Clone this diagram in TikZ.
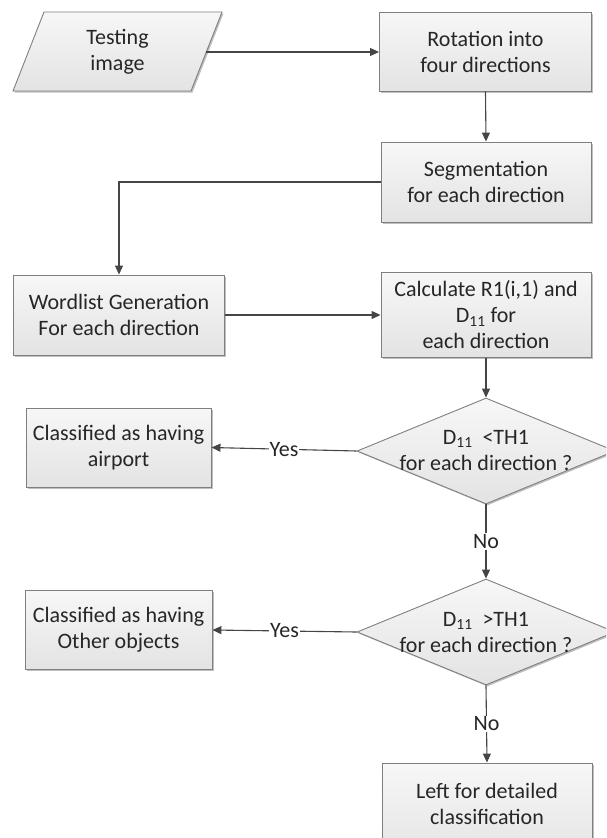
\documentclass[tikz,border=0pt]{standalone}
\usepackage{fontspec}
\setmainfont{Carlito}
\usetikzlibrary{arrows.meta,shapes.geometric,shadows}
\definecolor{boxline}{HTML}{7F7F7F}
\definecolor{arrowc}{HTML}{454545}
\definecolor{txt}{HTML}{262626}
\definecolor{topc}{HTML}{F7F7F7}
\definecolor{botc}{HTML}{E3E3E3}
\begin{document}
\begin{tikzpicture}[x=1pt,y=-1pt,
  font=\fontsize{22pt}{26pt}\selectfont, text=txt,
  shad/.style={drop shadow={shadow xshift=1.5pt, shadow yshift=-1.5pt, opacity=0.25, fill=black}},
  box/.style={rectangle, draw=boxline, line width=0.9pt, top color=topc, bottom color=botc,
    align=center, inner sep=0pt, shad},
  dia/.style={diamond, draw=boxline, line width=0.9pt, top color=topc, bottom color=botc,
    inner sep=0pt, minimum width=258pt, minimum height=106pt, shad},
  arr/.style={draw=arrowc, line width=1.1pt, -{Triangle[length=9pt,width=8pt]}},
  lbl/.style={fill=white, inner sep=1pt}
]
\useasboundingbox (0,0) rectangle (606,838);
\clip (0,0) rectangle (606,838);

% input parallelogram
\path[draw=boxline, line width=0.9pt, top color=topc, bottom color=botc, shad]
  (44,12) -- (222,12) -- (191,91) -- (13,91) -- cycle;
\node[align=center, inner sep=0pt] (test) at (117.5,52) {Testing\\image};
\coordinate (testR) at (206,52);

\node[box, minimum width=212pt, minimum height=79pt] (rot) at (485.5,51.5) {Rotation into\\four directions};
\node[box, minimum width=210pt, minimum height=80pt] (seg) at (486,182) {Segmentation\\for each direction};
\node[box, minimum width=211pt, minimum height=80pt] (wl) at (119,315) {Wordlist Generation\\For each direction};
\node[box, minimum width=210pt, minimum height=85pt] (calc) at (486,315) {Calculate R1(i,1) and\\D\textsubscript{11} for\\each direction};
\node[dia] (d1) at (486,451) {};
\node[align=center, inner sep=0pt] (d1t) at (486,450) {D\textsubscript{11}\ \ <TH1\\for each direction ?};
\node[box, minimum width=185pt, minimum height=79pt] (air) at (118.5,447.5) {Classified as having\\airport};
\node[dia] (d2) at (486,632) {};
\node[align=center, inner sep=0pt] (d2t) at (486,632) {D\textsubscript{11}\ \ >TH1\\for each direction ?};
\node[box, minimum width=187pt, minimum height=79pt] (oth) at (118.5,630) {Classified as having\\Other objects};
\node[box, minimum width=210pt, minimum height=100pt] (left) at (487,813) {};
\node[align=center, inner sep=0pt] (leftt) at (487,804) {Left for detailed\\classification};

\draw[arr] (testR) -- (testR -| rot.west);
\draw[arr] (rot.south) -- (seg.north);
\draw[arr] (seg.west) -| (wl.north);
\draw[arr] (wl.east) -- (calc.west);
\draw[arr] (calc.south) -- (d1.north);
\draw[arr] (d1.west) -- node[lbl]{Yes} (air.east);
\draw[arr] (d1.south) -- node[lbl]{No} (d2.north);
\draw[arr] (d2.west) -- node[lbl]{Yes} (oth.east);
\draw[arr] (d2.south) -- node[lbl]{No} (left.north);
\end{tikzpicture}
\end{document}
